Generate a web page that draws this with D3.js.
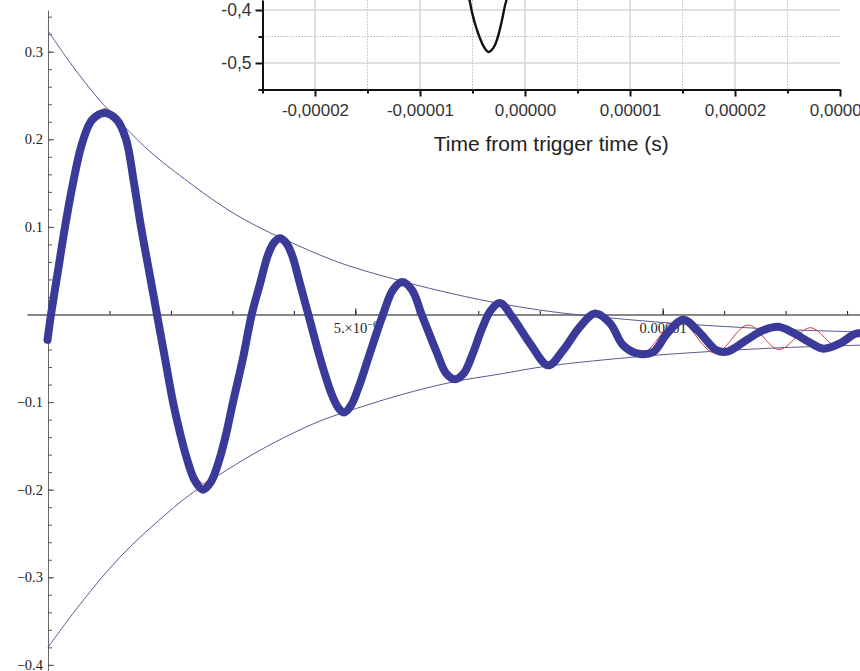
<!DOCTYPE html>
<html><head><meta charset="utf-8">
<script src="https://cdn.jsdelivr.net/npm/d3@7"></script>
<style>body{margin:0;background:#fff;overflow:hidden}</style>
</head><body><svg id="c" width="860" height="671"></svg>
<script>
// ---- main plot data (time in microseconds, signal) ----
const measT = [-0.008,0.049,0.163,0.277,0.407,0.553,0.716,0.927,1.122,1.269,1.399,1.513,1.643,1.773,1.903,2.034,2.147,2.261,2.391,2.522,2.652,2.782,2.896,3.010,3.172,3.314,3.449,3.579,3.677,3.774,3.871,3.969,4.100,4.235,4.360,4.490,4.620,4.718,4.815,4.929,5.059,5.238,5.450,5.612,5.763,5.921,6.079,6.328,6.474,6.621,6.767,6.914,7.061,7.207,7.353,7.565,7.840,8.139,8.378,8.655,8.899,9.143,9.354,9.566,9.842,10.070,10.335,10.579,10.879,11.067,11.367,11.637,11.880,12.125,12.396,12.613,12.884,13.100,13.24];
const measV = [-0.029,0.000,0.050,0.100,0.150,0.195,0.222,0.230,0.222,0.200,0.150,0.100,0.050,0.000,-0.050,-0.100,-0.135,-0.165,-0.190,-0.200,-0.191,-0.167,-0.137,-0.100,-0.050,0.000,0.035,0.068,0.082,0.087,0.082,0.068,0.035,0.000,-0.033,-0.065,-0.092,-0.106,-0.112,-0.104,-0.082,-0.044,0.000,0.028,0.037,0.028,0.000,-0.044,-0.067,-0.074,-0.067,-0.044,-0.016,0.005,0.013,-0.004,-0.033,-0.058,-0.041,-0.014,0.001,-0.010,-0.035,-0.044,-0.043,-0.022,-0.006,-0.019,-0.041,-0.042,-0.029,-0.018,-0.014,-0.021,-0.032,-0.039,-0.033,-0.023,-0.021];

const fitT = [-0.008,0.049,0.277,0.553,0.930,1.269,1.513,1.773,2.034,2.261,2.530,2.782,3.026,3.314,3.774,4.235,4.820,5.455,5.764,6.060,6.600,6.900,7.190,7.340,7.570,8.130,8.870,9.600,10.250,10.850,11.390,11.890,12.400,12.850,13.25];
const fitV = [-0.029,0.000,0.100,0.197,0.235,0.200,0.100,0.000,-0.100,-0.162,-0.193,-0.163,-0.100,0.000,0.089,0.000,-0.110,0.000,0.038,0.000,-0.073,-0.040,0.000,0.012,-0.003,-0.057,0.001,-0.047,-0.007,-0.044,-0.012,-0.040,-0.015,-0.037,-0.019];

const upperT = [0,0.293,0.602,0.911,1.334,1.659,2.310,2.961,3.449,3.774,4.750,5.759,6.377,7.239,8.215,9.631,10.607,11.908,13.25];
const upperV = [0.324,0.294,0.265,0.239,0.208,0.186,0.150,0.118,0.099,0.088,0.059,0.038,0.027,0.014,0.003,-0.007,-0.012,-0.017,-0.020];
const lowerT = [0,0.52,1.171,1.985,2.424,3.449,4.376,4.815,5.726,6.589,7.353,8.118,9.631,10.607,11.908,13.25];
const lowerV = [-0.380,-0.331,-0.277,-0.224,-0.200,-0.155,-0.123,-0.112,-0.092,-0.077,-0.068,-0.059,-0.048,-0.043,-0.038,-0.035];

const yMajor = [-0.4,-0.3,-0.2,-0.1,0.1,0.2,0.3];
const yMinor = d3.range(-0.40,0.341,0.02).map(v=>+v.toFixed(2));
const xMajor = [5,10];
const xMinor = d3.range(1,14);

// ---- inset data (time in microseconds, volts) ----
const insetT = [-5.50,-5.29,-5.05,-4.67,-4.29,-3.90,-3.52,-3.24,-2.86,-2.48,-2.19,-1.90,-1.76,-1.55];
const insetV = [-0.368,-0.381,-0.404,-0.432,-0.453,-0.470,-0.479,-0.477,-0.466,-0.443,-0.419,-0.391,-0.381,-0.366];
const insetXMajor = [-20,-10,0,10,20,30];
const insetXMinor = [-25,-15,-5,5,15,25];
const insetYMajor = [-0.4,-0.5];
const insetYMinor = [-0.45,-0.55];
const insetTitle = "Time from trigger time (s)";

const svg = d3.select("#c");
const x = d3.scaleLinear().domain([-0.3416,13.21]).range([27,860]);
const y = d3.scaleLinear().domain([0.3476,-0.4070]).range([10,671]);
const serif = "'Liberation Serif','Times New Roman',serif";

// y axis
const gy = svg.append("g").attr("transform",`translate(${x(0)},0)`);
gy.call(d3.axisLeft(y).tickValues(yMinor).tickSize(-4).tickSizeOuter(0).tickFormat(""));
gy.selectAll(".tick line").attr("stroke","#555");
gy.select(".domain").attr("stroke","#666");
const gy2 = svg.append("g").attr("transform",`translate(${x(0)},0)`);
gy2.call(d3.axisLeft(y).tickValues(yMajor).tickSize(-6).tickPadding(5).tickFormat(d3.format(".1f")));
gy2.select(".domain").remove();
gy2.selectAll(".tick line").attr("stroke","#555");
gy2.selectAll("text").attr("font-family",serif).attr("font-size",14.5).attr("fill","#222");

// x axis
const gx = svg.append("g").attr("transform",`translate(0,${y(0)})`);
gx.call(d3.axisBottom(x).tickValues(xMinor).tickSize(-3.5).tickSizeOuter(0).tickFormat(""));
gx.select(".domain").attr("stroke","#111").attr("stroke-width",1.2);
gx.selectAll(".tick line").attr("stroke","#111");
const gx2 = svg.append("g").attr("transform",`translate(0,${y(0)})`);
gx2.call(d3.axisBottom(x).tickValues(xMajor).tickSize(-6).tickPadding(8).tickFormat(d=> d===10 ? "0.00001" : ""));
gx2.select(".domain").remove();
gx2.selectAll(".tick line").attr("stroke","#111");
gx2.selectAll("text").attr("font-family",serif).attr("font-size",14.5).attr("fill","#222");
gx2.selectAll(".tick").filter(d=>d===5).select("text").each(function(){
  const t=d3.select(this);
  t.text("5.×10");
  t.append("tspan").attr("dy","-0.45em").attr("font-size",10).text("−6");
});

// envelopes
const line = d3.line().x(d=>x(d[0])).y(d=>y(d[1]));
svg.append("path").datum(d3.zip(upperT,upperV)).attr("d",line.curve(d3.curveCatmullRom))
  .attr("fill","none").attr("stroke","#5a5a90").attr("stroke-width",1);
svg.append("path").datum(d3.zip(lowerT,lowerV)).attr("d",line.curve(d3.curveCatmullRom))
  .attr("fill","none").attr("stroke","#5a5a90").attr("stroke-width",1);

// fit curve (red) under measured data (blue)
svg.append("path").datum(d3.zip(fitT,fitV)).attr("d",line.curve(d3.curveCatmullRom.alpha(0.5)))
  .attr("fill","none").attr("stroke","#d23a3a").attr("stroke-width",1);
svg.append("path").datum(d3.zip(measT,measV)).attr("d",line.curve(d3.curveCatmullRom.alpha(0.5)))
  .attr("fill","none").attr("stroke","#3a3b98").attr("stroke-width",8)
  .attr("stroke-linejoin","round").attr("stroke-linecap","round");

// ---- inset ----
const ins = svg.append("g");
ins.append("rect").attr("x",205).attr("y",0).attr("width",655).attr("height",158).attr("fill","#fff");
const ix = d3.scaleLinear().domain([-25,30]).range([262.5,840]);
const iy = d3.scaleLinear().domain([-0.55,-0.3811]).range([89.5,0]);
const sans = "'Liberation Sans',Arial,sans-serif";
// grid
ins.selectAll(".vmaj").data(insetXMajor.filter(d=>d<30)).join("line")
  .attr("x1",d=>ix(d)).attr("x2",d=>ix(d)).attr("y1",0).attr("y2",iy(-0.55))
  .attr("stroke","#d6d6d6").attr("stroke-width",1.5);
ins.selectAll(".vmin").data(insetXMinor.filter(d=>d>-25)).join("line")
  .attr("x1",d=>ix(d)).attr("x2",d=>ix(d)).attr("y1",0).attr("y2",iy(-0.55))
  .attr("stroke","#bdbdbd").attr("stroke-width",1).attr("stroke-dasharray","1.5,1.5");
ins.selectAll(".hmaj").data(insetYMajor).join("line")
  .attr("x1",ix(-25)).attr("x2",ix(30)).attr("y1",d=>iy(d)).attr("y2",d=>iy(d))
  .attr("stroke","#d6d6d6").attr("stroke-width",1.5);
ins.selectAll(".hmin").data([-0.45]).join("line")
  .attr("x1",ix(-25)).attr("x2",ix(30)).attr("y1",d=>iy(d)).attr("y2",d=>iy(d))
  .attr("stroke","#bdbdbd").attr("stroke-width",1).attr("stroke-dasharray","1.5,1.5");
// curve
ins.append("clipPath").attr("id","icl").append("rect").attr("x",262).attr("y",0).attr("width",580).attr("height",90);
ins.append("path").datum(d3.zip(insetT,insetV)).attr("clip-path","url(#icl)")
  .attr("d",d3.line().x(d=>ix(d[0])).y(d=>iy(d[1])).curve(d3.curveCatmullRom.alpha(0.5)))
  .attr("fill","none").attr("stroke","#111").attr("stroke-width",2.4);
// axes
const iya = ins.append("g").attr("transform",`translate(${ix(-25)},0)`);
iya.call(d3.axisLeft(iy).tickValues(insetYMinor).tickSize(4).tickSizeOuter(0).tickFormat(""));
iya.select(".domain").attr("stroke","#111").attr("stroke-width",2);
iya.selectAll(".tick line").attr("stroke","#111").attr("stroke-width",2);
const iya2 = ins.append("g").attr("transform",`translate(${ix(-25)},0)`);
iya2.call(d3.axisLeft(iy).tickValues(insetYMajor).tickSize(7).tickPadding(4).tickFormat(d=>d3.format(".1f")(d).replace("−","-").replace(".",",")));
iya2.select(".domain").remove();
iya2.selectAll(".tick line").attr("stroke","#111").attr("stroke-width",2);
iya2.selectAll("text").attr("font-family",sans).attr("font-size",17.5).attr("fill","#333");
const ixa = ins.append("g").attr("transform",`translate(0,${iy(-0.55)})`);
ixa.call(d3.axisBottom(ix).tickValues(insetXMinor).tickSize(4).tickSizeOuter(0).tickFormat(""));
ixa.select(".domain").attr("stroke","#111").attr("stroke-width",2);
ixa.selectAll(".tick line").attr("stroke","#111").attr("stroke-width",2);
const ixa2 = ins.append("g").attr("transform",`translate(0,${iy(-0.55)})`);
ixa2.call(d3.axisBottom(ix).tickValues(insetXMajor).tickSize(7).tickPadding(7)
  .tickFormat(d=>(d/1e6).toFixed(5).replace("-0.","-0,").replace("0.","0,")));
ixa2.select(".domain").remove();
ixa2.selectAll(".tick line").attr("stroke","#111").attr("stroke-width",2);
ixa2.selectAll("text").attr("font-family",sans).attr("font-size",17).attr("fill","#333");
ins.append("text").attr("x",ix(2.5)).attr("y",151).attr("text-anchor","middle")
  .attr("font-family",sans).attr("font-size",21).attr("fill","#222").text(insetTitle);
</script></body></html>
